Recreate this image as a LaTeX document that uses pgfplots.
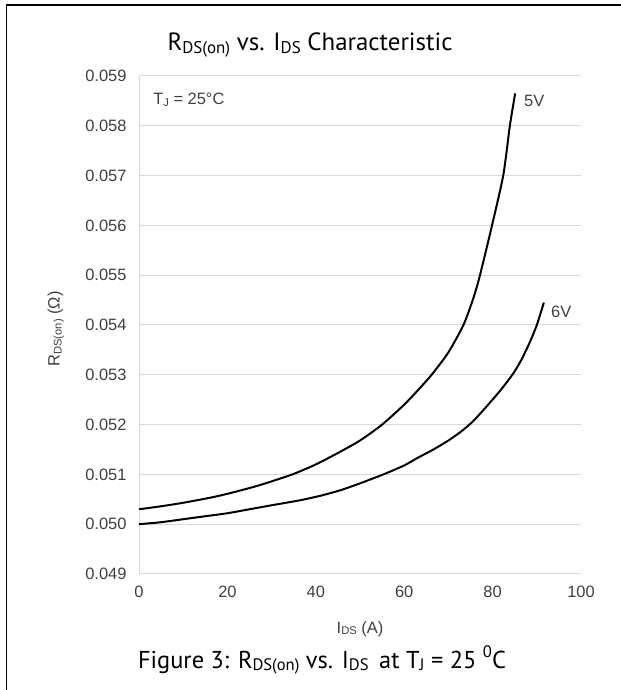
\documentclass[border=0pt]{standalone}
\usepackage{fontspec}
\setmainfont{Liberation Sans}
\newfontfamily\titlefont{PT Sans}
\usepackage{graphicx}
\usepackage{pgfplots}
\pgfplotsset{compat=1.18}
\definecolor{gridc}{HTML}{D9D9D9}
\definecolor{tickc}{HTML}{404040}
\newcommand{\sub}[1]{\raisebox{-0.22ex}{\scalebox{0.68}{#1}}}
\begin{document}
\begin{tikzpicture}[x=1bp,y=1bp]
\path[use as bounding box] (0,0) rectangle (621,690);
\draw[line width=1.7bp] (6.5,0) -- (6.5,685) -- (621,685);
\node[font=\titlefont\fontsize{25}{29}\selectfont, anchor=center] at (310,645) {R\sub{DS(on)} vs. I\sub{DS} Characteristic};
\node[font=\titlefont\fontsize{24.5}{29}\selectfont, anchor=center] at (322,30) {Figure 3: R\sub{DS(on)} vs. I\sub{DS}\, at T\sub{J} = 25 \raisebox{0.9ex}{\scalebox{0.68}{0}}C};
\begin{axis}[
  at={(139bp,116bp)}, anchor=south west, scale only axis,
  width=442bp, height=498bp,
  xmin=0, xmax=100, ymin=0.049, ymax=0.059,
  xtick={0,20,40,60,80,100},
  ytick={0.049,0.050,0.051,0.052,0.053,0.054,0.055,0.056,0.057,0.058,0.059},
  scaled y ticks=false,
  axis x line*=bottom, axis y line*=left,
  axis line style={draw=gridc, line width=1bp},
  ymajorgrids, grid style={draw=gridc, line width=1bp},
  major tick length=0pt,
  /pgf/number format/assume math mode=true,
  yticklabel style={/pgf/number format/fixed, /pgf/number format/fixed zerofill, /pgf/number format/precision=3, xshift=-9bp},
  tick label style={font=\fontsize{16.5}{19}\selectfont, text=tickc},
  xticklabel style={yshift=-9bp},
  xlabel={I\sub{DS} (A)},
  ylabel={R\sub{DS(on)} (Ω)},
  label style={font=\fontsize{16.5}{19}\selectfont, text=tickc},
  xlabel style={at={(axis description cs:0.5,-0.110)}, anchor=center},
  ylabel style={at={(axis description cs:-0.188,0.492)}, anchor=center},
  clip=false,
]
\addplot[black, line width=2bp, smooth, tension=0.4] coordinates {
(0,0.05030) (5,0.05036) (10,0.05043) (16,0.05053) (20,0.05061) (26,0.05075)
(30,0.05086) (35,0.05101) (40,0.05120) (45,0.05143) (50,0.05168) (55,0.05200)
(60,0.05240) (63,0.05268) (66.2,0.05300) (70,0.05345) (73.4,0.05400)
(75.5,0.05450) (77.0,0.05495) (79.6,0.05590) (82.4,0.05700) (83.9,0.05800) (85.1,0.05865)
};
\addplot[black, line width=2bp, smooth, tension=0.4] coordinates {
(0,0.05000) (5,0.05004) (10,0.05010) (15,0.05016) (20,0.05022) (25,0.05030)
(30,0.05038) (36.4,0.05048) (41,0.05057) (45.5,0.05068) (50,0.05082) (55.3,0.05100)
(60,0.05118) (63,0.05133) (66.6,0.05150) (70,0.05168) (73,0.05187) (75.5,0.05206)
(78,0.05230) (81.7,0.05268) (84.7,0.05303) (86.5,0.05330) (88.5,0.05367) (90,0.05400)
(91.6,0.05445)
};
\node[anchor=west, inner sep=0pt, font=\fontsize{16.5}{19}\selectfont, text=tickc] at (axis cs:87.1,0.0585) {5V};
\node[anchor=west, inner sep=0pt, font=\fontsize{16.5}{19}\selectfont, text=tickc] at (axis cs:93.2,0.05427) {6V};
\node[anchor=west, inner sep=0pt, font=\fontsize{16.5}{19}\selectfont, text=tickc] at (axis cs:3.2,0.05852) {T\sub{J} = 25°C};
\end{axis}
\end{tikzpicture}
\end{document}
